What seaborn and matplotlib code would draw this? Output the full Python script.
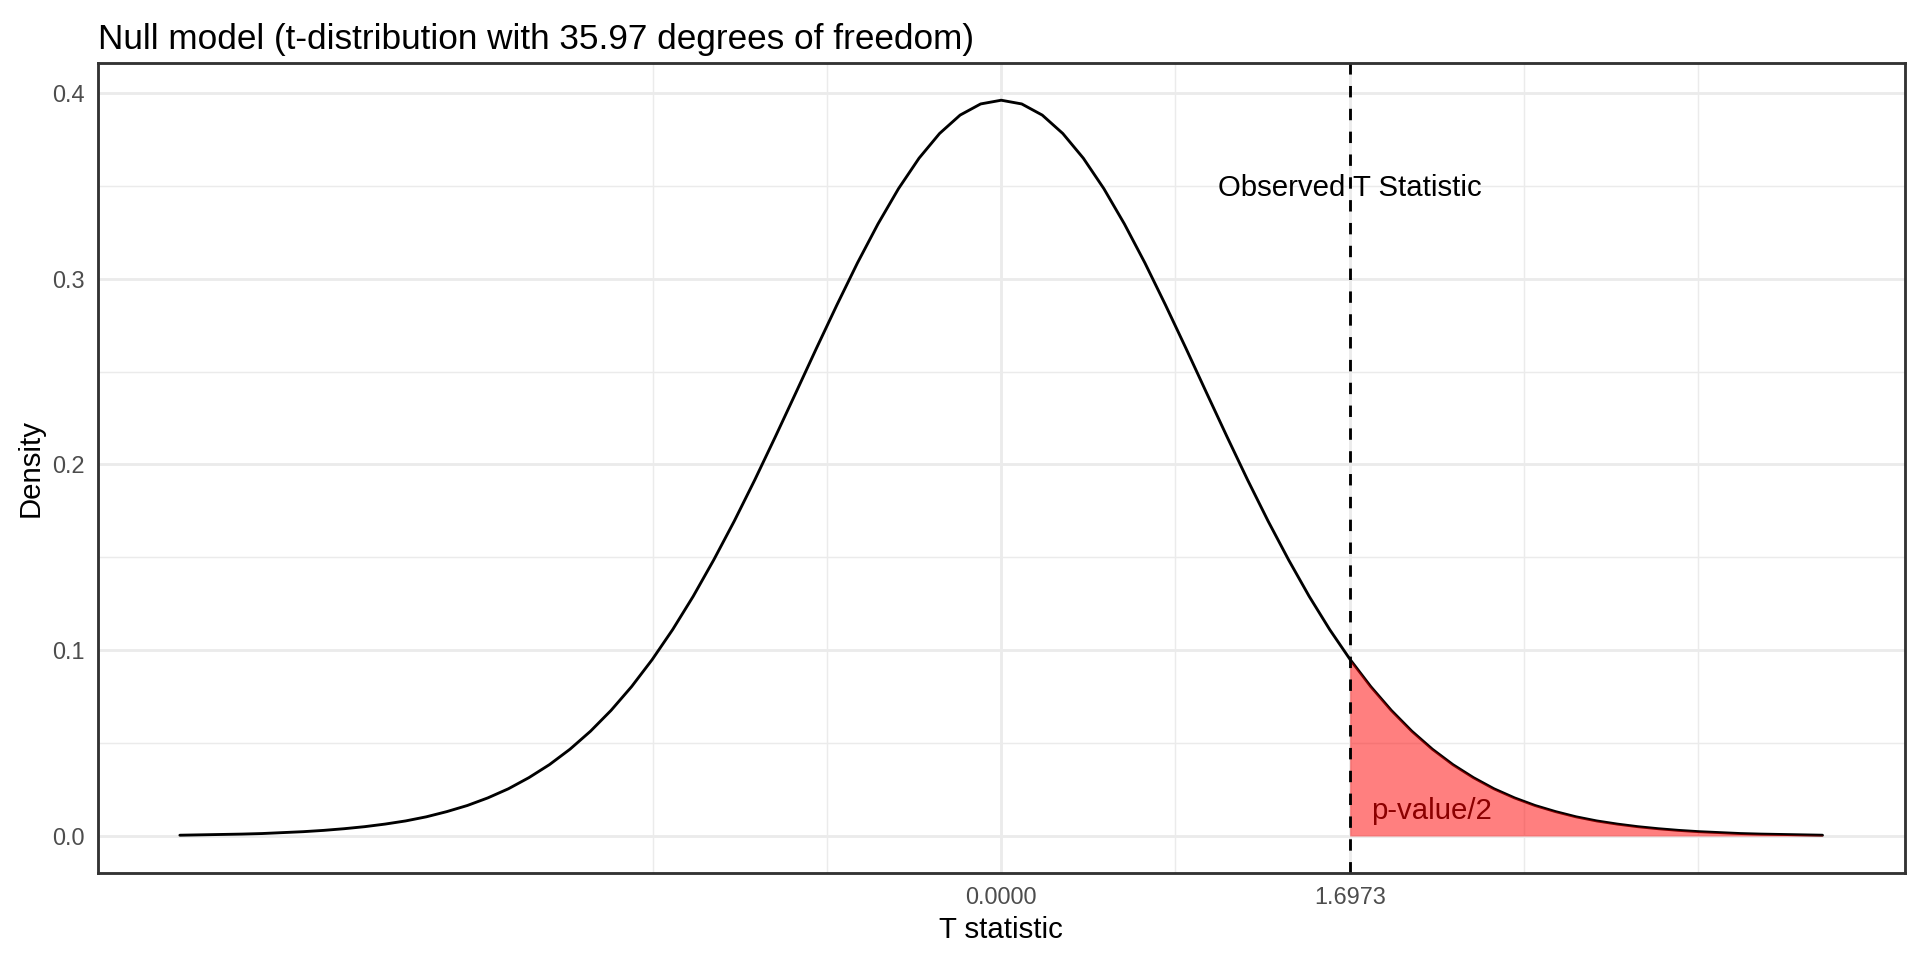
import numpy as np
import pandas as pd
import matplotlib
matplotlib.use("Agg")
import matplotlib.pyplot as plt
import seaborn as sns

# ---- data ----
t_values = [-4.0, -3.9, -3.8, -3.7, -3.6, -3.5, -3.4, -3.3, -3.2, -3.1,
            -3.0, -2.9, -2.8, -2.7, -2.6, -2.5, -2.4, -2.3, -2.2, -2.1,
            -2.0, -1.9, -1.8, -1.7, -1.6, -1.5, -1.4, -1.3, -1.2, -1.1,
            -1.0, -0.9, -0.8, -0.7, -0.6, -0.5, -0.4, -0.3, -0.2, -0.1,
            0.0,
            0.1, 0.2, 0.3, 0.4, 0.5, 0.6, 0.7, 0.8, 0.9, 1.0,
            1.1, 1.2, 1.3, 1.4, 1.5, 1.6, 1.7, 1.8, 1.9, 2.0,
            2.1, 2.2, 2.3, 2.4, 2.5, 2.6, 2.7, 2.8, 2.9, 3.0,
            3.1, 3.2, 3.3, 3.4, 3.5, 3.6, 3.7, 3.8, 3.9, 4.0]
density_values = [0.0004, 0.0006, 0.0008, 0.0010, 0.0013, 0.0018, 0.0023, 0.0030, 0.0039, 0.0050,
                  0.0064, 0.0081, 0.0103, 0.0131, 0.0164, 0.0205, 0.0254, 0.0314, 0.0384, 0.0467,
                  0.0564, 0.0676, 0.0804, 0.0949, 0.1111, 0.1290, 0.1486, 0.1695, 0.1917, 0.2149,
                  0.2386, 0.2625, 0.2859, 0.3085, 0.3295, 0.3485, 0.3649, 0.3782, 0.3881, 0.3941,
                  0.3961,
                  0.3941, 0.3881, 0.3782, 0.3649, 0.3485, 0.3295, 0.3085, 0.2859, 0.2625, 0.2386,
                  0.2149, 0.1917, 0.1695, 0.1486, 0.1290, 0.1111, 0.0949, 0.0804, 0.0676, 0.0564,
                  0.0467, 0.0384, 0.0314, 0.0254, 0.0205, 0.0164, 0.0131, 0.0103, 0.0081, 0.0064,
                  0.0050, 0.0039, 0.0030, 0.0023, 0.0018, 0.0013, 0.0010, 0.0008, 0.0006, 0.0004]

t_observed = 1.6973
density_at_observed = 0.0953
degrees_of_freedom = "35.97"

x_major_ticks = [0.0, 1.6973]
x_major_labels = ["0.0000", "1.6973"]
x_minor_ticks = [-1.6973, -0.84865, 0.84865, 2.54595, 3.3946]
y_major_ticks = [0.0, 0.1, 0.2, 0.3, 0.4]
y_major_labels = ["0.0", "0.1", "0.2", "0.3", "0.4"]
y_minor_ticks = [0.05, 0.15, 0.25, 0.35]

title_text = f"Null model (t-distribution with {degrees_of_freedom} degrees of freedom)"
x_label = "T statistic"
y_label = "Density"
observed_label = "Observed T Statistic"
pvalue_label = "p-value/2"

# ---- tables ----
curve_df = pd.DataFrame({"t": t_values, "density": density_values})
tail_df = pd.concat([
    pd.DataFrame({"t": [t_observed], "density": [density_at_observed]}),
    curve_df[curve_df["t"] > t_observed],
], ignore_index=True)

# ---- style (ggplot theme_bw look) ----
sns.set_theme(style="white")
plt.rcParams["font.family"] = ["Liberation Sans", "DejaVu Sans"]

GREY20 = "#333333"
GREY30 = "#4D4D4D"
GREY92 = "#EBEBEB"
LW = 1.07

fig = plt.figure(figsize=(10, 5), dpi=192)
ax = fig.add_axes([0.0509, 0.0909, 0.9411, 0.8432])

sns.lineplot(data=curve_df, x="t", y="density", color="black",
             linewidth=LW, ax=ax, zorder=3, sort=True)

ax.fill_between(tail_df["t"], 0, tail_df["density"], color="red",
                alpha=0.5, linewidth=0, zorder=4)

ax.axvline(t_observed, color="black", linewidth=LW, linestyle=(0, (4, 4)),
           zorder=5)

ax.text(t_observed, 0.3446, observed_label, ha="center", va="baseline",
        fontsize=11, color="black", zorder=6)
ax.text(2.097, 0.0092, pvalue_label, ha="center", va="baseline",
        fontsize=11, color="#8B0000", zorder=6)

ax.set_xlim(-4.4, 4.4)
ax.set_ylim(-0.0198, 0.4160)

ax.set_xticks(x_major_ticks)
ax.set_xticklabels(x_major_labels)
ax.set_xticks(x_minor_ticks, minor=True)
ax.set_yticks(y_major_ticks)
ax.set_yticklabels(y_major_labels)
ax.set_yticks(y_minor_ticks, minor=True)

ax.tick_params(axis="both", which="major", direction="out", length=2.75,
               width=LW, color=GREY20, labelcolor=GREY30, labelsize=8.8,
               pad=2.2)
ax.tick_params(axis="both", which="minor", length=0)

ax.grid(which="major", color=GREY92, linewidth=LW)
ax.grid(which="minor", color=GREY92, linewidth=LW / 2)
ax.set_axisbelow(True)

for spine in ax.spines.values():
    spine.set_visible(True)
    spine.set_color(GREY20)
    spine.set_linewidth(LW)
    spine.set_zorder(10)

ax.set_xlabel(x_label, fontsize=11, color="black", labelpad=2.75)
ax.set_ylabel(y_label, fontsize=11, color="black", labelpad=2.75)
ax.set_title(title_text, loc="left", fontsize=13.2, color="black", pad=5.5)

fig.savefig("out.png", dpi=192, facecolor="white")
